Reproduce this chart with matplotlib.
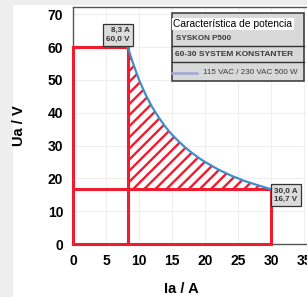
import matplotlib
matplotlib.use('Agg')
import matplotlib.pyplot as plt
from matplotlib import font_manager
from matplotlib.patches import Rectangle
from matplotlib.lines import Line2D

# power characteristic
ia_curve = [8.3, 9, 10, 11, 12, 13, 14, 15, 16, 17, 18, 19, 20, 22, 24, 26, 28, 30]
ua_curve = [60.0, 55.6, 50.0, 45.5, 41.7, 38.5, 35.7, 33.3, 31.3, 29.4, 27.8, 26.3,
            25.0, 22.7, 20.8, 19.2, 17.9, 16.7]

# corner points of the operating area
ia_knee, ua_max = 8.3, 60.0
ia_max, ua_knee = 30.0, 16.7

x_ticks = [0, 5, 10, 15, 20, 25, 30, 35]
y_ticks = [0, 10, 20, 30, 40, 50, 60, 70]

legend_title = 'Característica de potencia'
legend_rows = ['SYSKON P500', '60-30 SYSTEM KONSTANTER', '115 VAC / 230 VAC 500 W']
knee_label = '8,3 A\n60,0 V'
end_label = '30,0 A\n16,7 V'

names = {f.name for f in font_manager.fontManager.ttflist}
narrow = 'Liberation Sans Narrow' in names
plt.rcParams['font.family'] = ['Liberation Sans Narrow' if narrow else 'Liberation Sans', 'DejaVu Sans']
plt.rcParams['hatch.linewidth'] = 1.7
k = 1.0 if narrow else 0.82   # shrink text when the narrow face is missing

RED = '#ee1c2e'
BLUE = '#3d8fcc'
W, H = 307, 297


def px(x, y):
    return x / W, 1 - y / H


fig = plt.figure(figsize=(W / 100, H / 100), dpi=100, facecolor='#eeeeee')
fig.patches.append(Rectangle(px(13, 297), (W - 13) / W, 292 / H, transform=fig.transFigure,
                             facecolor='white', edgecolor='none', zorder=-5))

ax = fig.add_axes([73 / W, 53 / H, 237.6 / W, 237 / H])
ax.set_facecolor('white')
ax.set_xlim(0, 36)
ax.set_ylim(0, 72.2)
ax.set_xticks(x_ticks)
ax.set_yticks(y_ticks)
ax.tick_params(length=0, labelsize=10.5 * (1 if narrow else 0.95), pad=7)
for lab in ax.get_xticklabels() + ax.get_yticklabels():
    lab.set_fontweight('bold')
ax.grid(True, color='#efefef', lw=0.8)
ax.set_axisbelow(True)
for s in ax.spines.values():
    s.set_color('#555555')
    s.set_linewidth(1.0)

# hatched area between curve and the lower rectangle
ax.fill_between(ia_curve, ua_knee, ua_curve, facecolor='none', edgecolor=RED,
                hatch='///', linewidth=0, zorder=2)

# red operating area rectangles
ax.plot([0, 0, ia_knee, ia_knee], [0, ua_max, ua_max, 0], color=RED, lw=2.2, zorder=3,
        solid_joinstyle='miter', clip_on=False)
ax.plot([0, ia_max, ia_max, 0], [ua_knee, ua_knee, 0, 0], color=RED, lw=2.2, zorder=3,
        solid_joinstyle='miter', clip_on=False)

ax.plot(ia_curve, ua_curve, color=BLUE, lw=1.6, zorder=4)

ax.set_xlabel('Ia / A', fontsize=10.5, fontweight='bold', va='center')
ax.set_ylabel('Ua / V', fontsize=10.5, fontweight='bold', va='center')
ax.xaxis.set_label_coords(0.455, -0.19)
ax.yaxis.set_label_coords(-0.227, 0.5)

# value boxes at the corners
box = dict(boxstyle='square,pad=0.38', facecolor='#dcdcdc', edgecolor='#333333', lw=0.9)
ax.text(8.6, 61.3, knee_label, ha='right', va='bottom', fontsize=5.8, fontweight='bold',
        color='#333333', linespacing=1.35, bbox=box, zorder=5)
ax.text(30.5, 17.2, end_label, ha='left', va='top', fontsize=5.8, fontweight='bold',
        color='#333333', linespacing=1.35, bbox=box, zorder=5)

# legend panel
x0, y0, x1, y1 = 171.5, 13, 303.5, 81
fig.patches.append(Rectangle(px(x0, y1), (x1 - x0) / W, (y1 - y0) / H, transform=fig.transFigure,
                             facecolor='#d9d9d9', edgecolor='#333333', lw=1.1, zorder=5))
fig.patches.append(Rectangle(px(x0 + 0.5, 30), (293 - x0) / W, 12.5 / H, transform=fig.transFigure,
                             facecolor='white', edgecolor='none', zorder=6))
for yy in (45.7, 62):
    fig.lines.append(Line2D([x0 / W, x1 / W], [1 - yy / H] * 2, transform=fig.transFigure,
                            color='#333333', lw=1.0, zorder=6))
fig.text(*px(173, 24), legend_title, fontsize=9 * k, ha='left', va='center', color='black', zorder=7)
fig.text(*px(176, 38), legend_rows[0], fontsize=7.0 * k, fontweight='bold', ha='left', va='center',
         color='#3a3a3a', zorder=7)
fig.text(*px(175, 54), legend_rows[1], fontsize=7.3 * k, fontweight='bold', ha='left', va='center',
         color='#3a3a3a', zorder=7)
fig.lines.append(Line2D([172 / W, 197 / W], [1 - 73 / H] * 2, transform=fig.transFigure,
                        color='#9fa6d6', lw=1.8, zorder=7))
fig.text(*px(203, 72.5), legend_rows[2], fontsize=7.0 * k, ha='left', va='center',
         color='#3a3a3a', zorder=7)

fig.savefig('out.png', dpi=100, facecolor=fig.get_facecolor())
